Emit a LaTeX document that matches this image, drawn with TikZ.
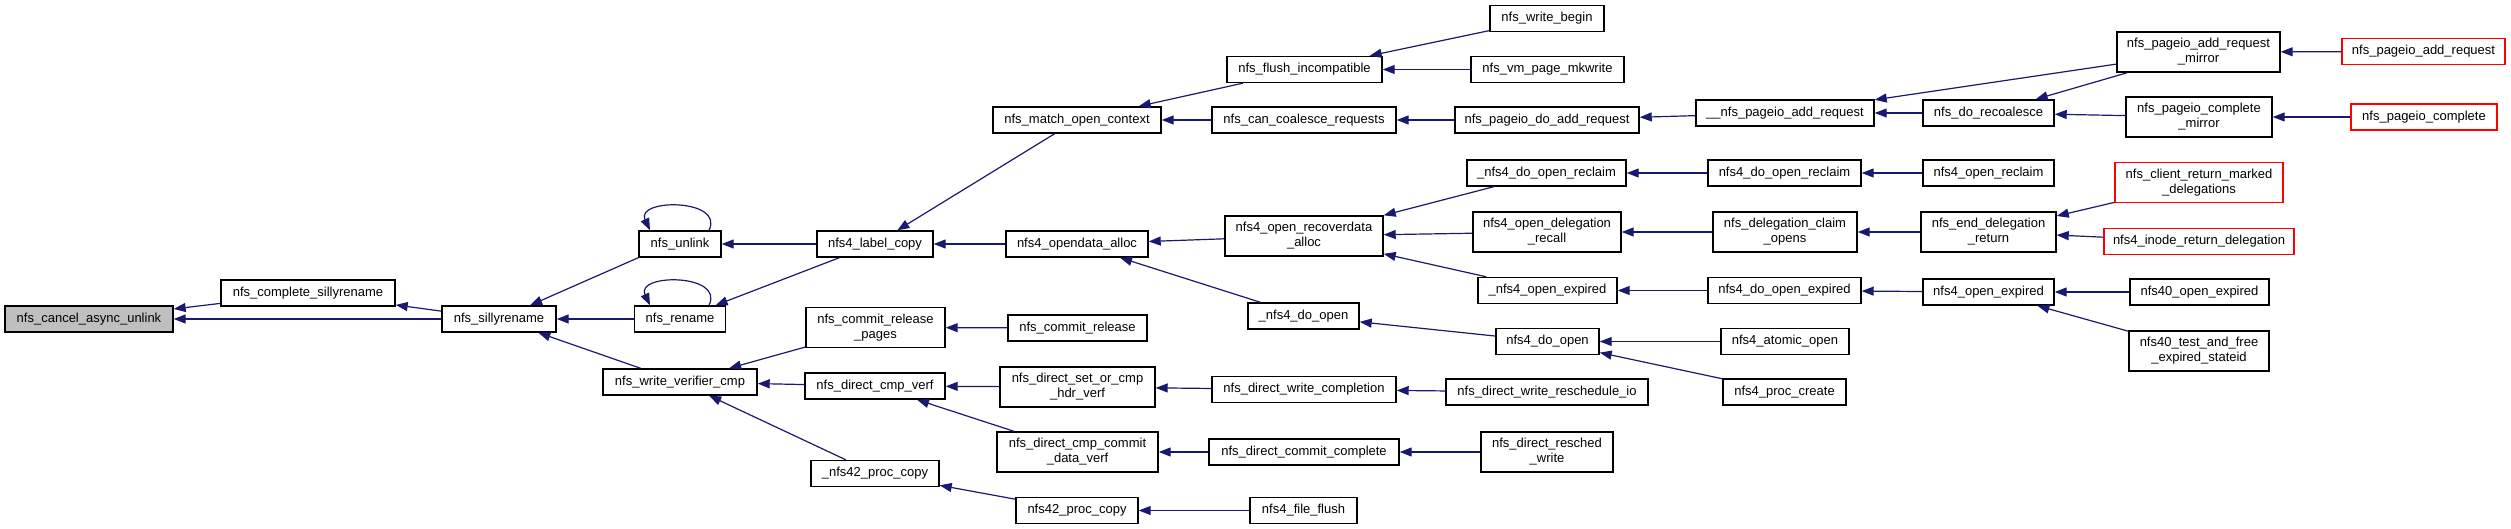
\documentclass[tikz,border=0pt]{standalone}
\usepackage{fontspec}
\setmainfont{Liberation Sans}
\usetikzlibrary{arrows.meta}
\definecolor{callblue}{HTML}{191970}

\begin{document}
\begin{tikzpicture}[x=1pt,y=-1pt,
    fn/.style={draw=black,fill=white,line width=1.4pt,inner sep=2pt,
        minimum height=26,align=center,font=\fontsize{13}{15}\selectfont},
    fntwo/.style={fn,minimum height=40},
    root/.style={fn,fill=black!25},
    cut/.style={draw=red},
    call/.style={draw=callblue,line width=1.2pt,-{Triangle[length=12pt,width=9pt]}}]

\useasboundingbox (0,0) rectangle (2511,529);

% Root
\node[root,minimum width=168] (cancel) at (89,319) {nfs\_cancel\_async\_unlink};

% Level 1
\node[fn,minimum width=174] (complete) at (308,293) {nfs\_complete\_sillyrename};
\node[fn,minimum width=114] (silly) at (499,319) {nfs\_sillyrename};

% Level 2
\node[fn,minimum width=82] (unlink) at (680,244) {nfs\_unlink};
\node[fn,minimum width=91] (rename) at (680,319) {nfs\_rename};
\node[fn,minimum width=154] (wvc) at (680,382) {nfs\_write\_verifier\_cmp};

% Level 3
\node[fn,minimum width=116] (labelcopy) at (875,244) {nfs4\_label\_copy};
\node[fntwo,minimum width=139] (crpages) at (875.5,327.5) {nfs\_commit\_release\\\_pages};
\node[fn,minimum width=140] (dcmpverf) at (875,386) {nfs\_direct\_cmp\_verf};
\node[fn,minimum width=128] (uproccopy) at (875,473.5) {\_nfs42\_proc\_copy};

% Level 4
\node[fn,minimum width=168] (matchctx) at (1077,120) {nfs\_match\_open\_context};
\node[fn,minimum width=142] (opendata) at (1077,244) {nfs4\_opendata\_alloc};
\node[fn,minimum width=139] (crelease) at (1077.5,328) {nfs\_commit\_release};
\node[fntwo,minimum width=155] (hdrverf) at (1077.5,387) {nfs\_direct\_set\_or\_cmp\\\_hdr\_verf};
\node[fntwo,minimum width=161] (cdataverf) at (1077.5,452) {nfs\_direct\_cmp\_commit\\\_data\_verf};
\node[fn,minimum width=122] (proccopy) at (1077,510.5) {nfs42\_proc\_copy};

% Level 5
\node[fn,minimum width=155] (flushinc) at (1304.5,69.5) {nfs\_flush\_incompatible};
\node[fn,minimum width=184] (coalesce) at (1304,120) {nfs\_can\_coalesce\_requests};
\node[fntwo,minimum width=158] (recover) at (1304,236) {nfs4\_open\_recoverdata\\\_alloc};
\node[fn,minimum width=111] (udoopen) at (1303.5,316) {\_nfs4\_do\_open};
\node[fn,minimum width=184] (wcompl) at (1304,389.5) {nfs\_direct\_write\_completion};
\node[fn,minimum width=190] (ccompl) at (1304,452) {nfs\_direct\_commit\_complete};
\node[fn,minimum width=107] (fileflush) at (1303.5,510.5) {nfs4\_file\_flush};

% Level 6
\node[fn,minimum width=114] (wbegin) at (1547,18.5) {nfs\_write\_begin};
\node[fn,minimum width=153] (mkwrite) at (1547.5,69.5) {nfs\_vm\_page\_mkwrite};
\node[fn,minimum width=184] (doadd) at (1547,120) {nfs\_pageio\_do\_add\_request};
\node[fn,minimum width=159] (ureclaim) at (1546.5,173) {\_nfs4\_do\_open\_reclaim};
\node[fntwo,minimum width=148] (delrecall) at (1547,232) {nfs4\_open\_delegation\\\_recall};
\node[fn,minimum width=139] (uexpired) at (1547.5,290.5) {\_nfs4\_open\_expired};
\node[fn,minimum width=103] (doopen) at (1547.5,341.5) {nfs4\_do\_open};
\node[fn,minimum width=202] (reschedio) at (1547,392) {nfs\_direct\_write\_reschedule\_io};
\node[fntwo,minimum width=132] (reschedw) at (1547,452) {nfs\_direct\_resched\\\_write};

% Level 7
\node[fn,minimum width=178] (uuaddreq) at (1785,113) {\_\_nfs\_pageio\_add\_request};
\node[fn,minimum width=153] (doreclaim) at (1784.5,173) {nfs4\_do\_open\_reclaim};
\node[fntwo,minimum width=144] (claimopens) at (1785,232) {nfs\_delegation\_claim\\\_opens};
\node[fn,minimum width=153] (doexpired) at (1784.5,290.5) {nfs4\_do\_open\_expired};
\node[fn,minimum width=128] (atomicopen) at (1785,341.5) {nfs4\_atomic\_open};
\node[fn,minimum width=123] (proccreate) at (1784.5,392) {nfs4\_proc\_create};

% Level 8
\node[fn,minimum width=131] (recoalesce) at (1988.5,113) {nfs\_do\_recoalesce};
\node[fn,minimum width=131] (openreclaim) at (1988.5,173) {nfs4\_open\_reclaim};
\node[fntwo,minimum width=135] (enddeleg) at (1988.5,232) {nfs\_end\_delegation\\\_return};
\node[fn,minimum width=131] (openexpired) at (1988.5,292) {nfs4\_open\_expired};

% Level 9
\node[fntwo,minimum width=163] (addmirror) at (2198.5,52) {nfs\_pageio\_add\_request\\\_mirror};
\node[fntwo,minimum width=146] (complmirror) at (2199,117) {nfs\_pageio\_complete\\\_mirror};
\node[fntwo,cut,minimum width=168] (retmarked) at (2199,182.5) {nfs\_client\_return\_marked\\\_delegations};
\node[fn,cut,minimum width=190] (inoderet) at (2199,241.5) {nfs4\_inode\_return\_delegation};
\node[fn,minimum width=139] (open40) at (2199.5,292) {nfs40\_open\_expired};
\node[fntwo,minimum width=140] (testfree) at (2199,351) {nfs40\_test\_and\_free\\\_expired\_stateid};

% Level 10
\node[fn,cut,minimum width=163] (addreq) at (2423.5,51.5) {nfs\_pageio\_add\_request};
\node[fn,cut,minimum width=146] (pgcompl) at (2424,117) {nfs\_pageio\_complete};

% Calls
\draw[call] (complete) -- (cancel);
\draw[call] (silly) -- (cancel);
\draw[call] (silly) -- (complete);
\draw[call] (unlink.south west) -- (silly);
\draw[call] (rename) -- (silly);
\draw[call] (wvc) -- (silly);
\draw[call] ([xshift=29pt]unlink.north) .. controls +(16,-32) and +(-15,-32) .. ([xshift=-30pt]unlink.north);
\draw[call] ([xshift=29pt]rename.north) .. controls +(16,-32) and +(-15,-32) .. ([xshift=-30pt]rename.north);
\draw[call] (labelcopy) -- (unlink);
\draw[call] (labelcopy) -- (rename);
\draw[call] (crpages) -- (wvc);
\draw[call] (dcmpverf) -- (wvc);
\draw[call] (uproccopy) -- (wvc);
\draw[call] (matchctx) -- (labelcopy);
\draw[call] (opendata) -- (labelcopy);
\draw[call] (crelease) -- (crpages);
\draw[call] (hdrverf) -- (dcmpverf);
\draw[call] (cdataverf) -- (dcmpverf);
\draw[call] (proccopy) -- (uproccopy);
\draw[call] (flushinc) -- (matchctx);
\draw[call] (coalesce) -- (matchctx);
\draw[call] (recover) -- (opendata);
\draw[call] (udoopen) -- (opendata);
\draw[call] (wcompl) -- (hdrverf);
\draw[call] (ccompl) -- (cdataverf);
\draw[call] (fileflush) -- (proccopy);
\draw[call] (wbegin) -- (flushinc);
\draw[call] (mkwrite) -- (flushinc);
\draw[call] (doadd) -- (coalesce);
\draw[call] (ureclaim) -- (recover);
\draw[call] (delrecall) -- (recover);
\draw[call] (uexpired) -- (recover);
\draw[call] (doopen) -- (udoopen);
\draw[call] (reschedio) -- (wcompl);
\draw[call] (reschedw) -- (ccompl);
\draw[call] (uuaddreq) -- (doadd);
\draw[call] (doreclaim) -- (ureclaim);
\draw[call] (claimopens) -- (delrecall);
\draw[call] (doexpired) -- (uexpired);
\draw[call] (atomicopen) -- (doopen);
\draw[call] (proccreate) -- (doopen);
\draw[call] (recoalesce) -- (uuaddreq);
\draw[call] (openreclaim) -- (doreclaim);
\draw[call] (enddeleg) -- (claimopens);
\draw[call] (openexpired) -- (doexpired);
\draw[call] (addmirror) -- (uuaddreq);
\draw[call] (addmirror) -- (recoalesce);
\draw[call] (complmirror) -- (recoalesce);
\draw[call] (retmarked) -- (enddeleg);
\draw[call] (inoderet) -- (enddeleg);
\draw[call] (open40) -- (openexpired);
\draw[call] (testfree) -- (openexpired);
\draw[call] (addreq) -- (addmirror);
\draw[call] (pgcompl) -- (complmirror);

\end{tikzpicture}
\end{document}
